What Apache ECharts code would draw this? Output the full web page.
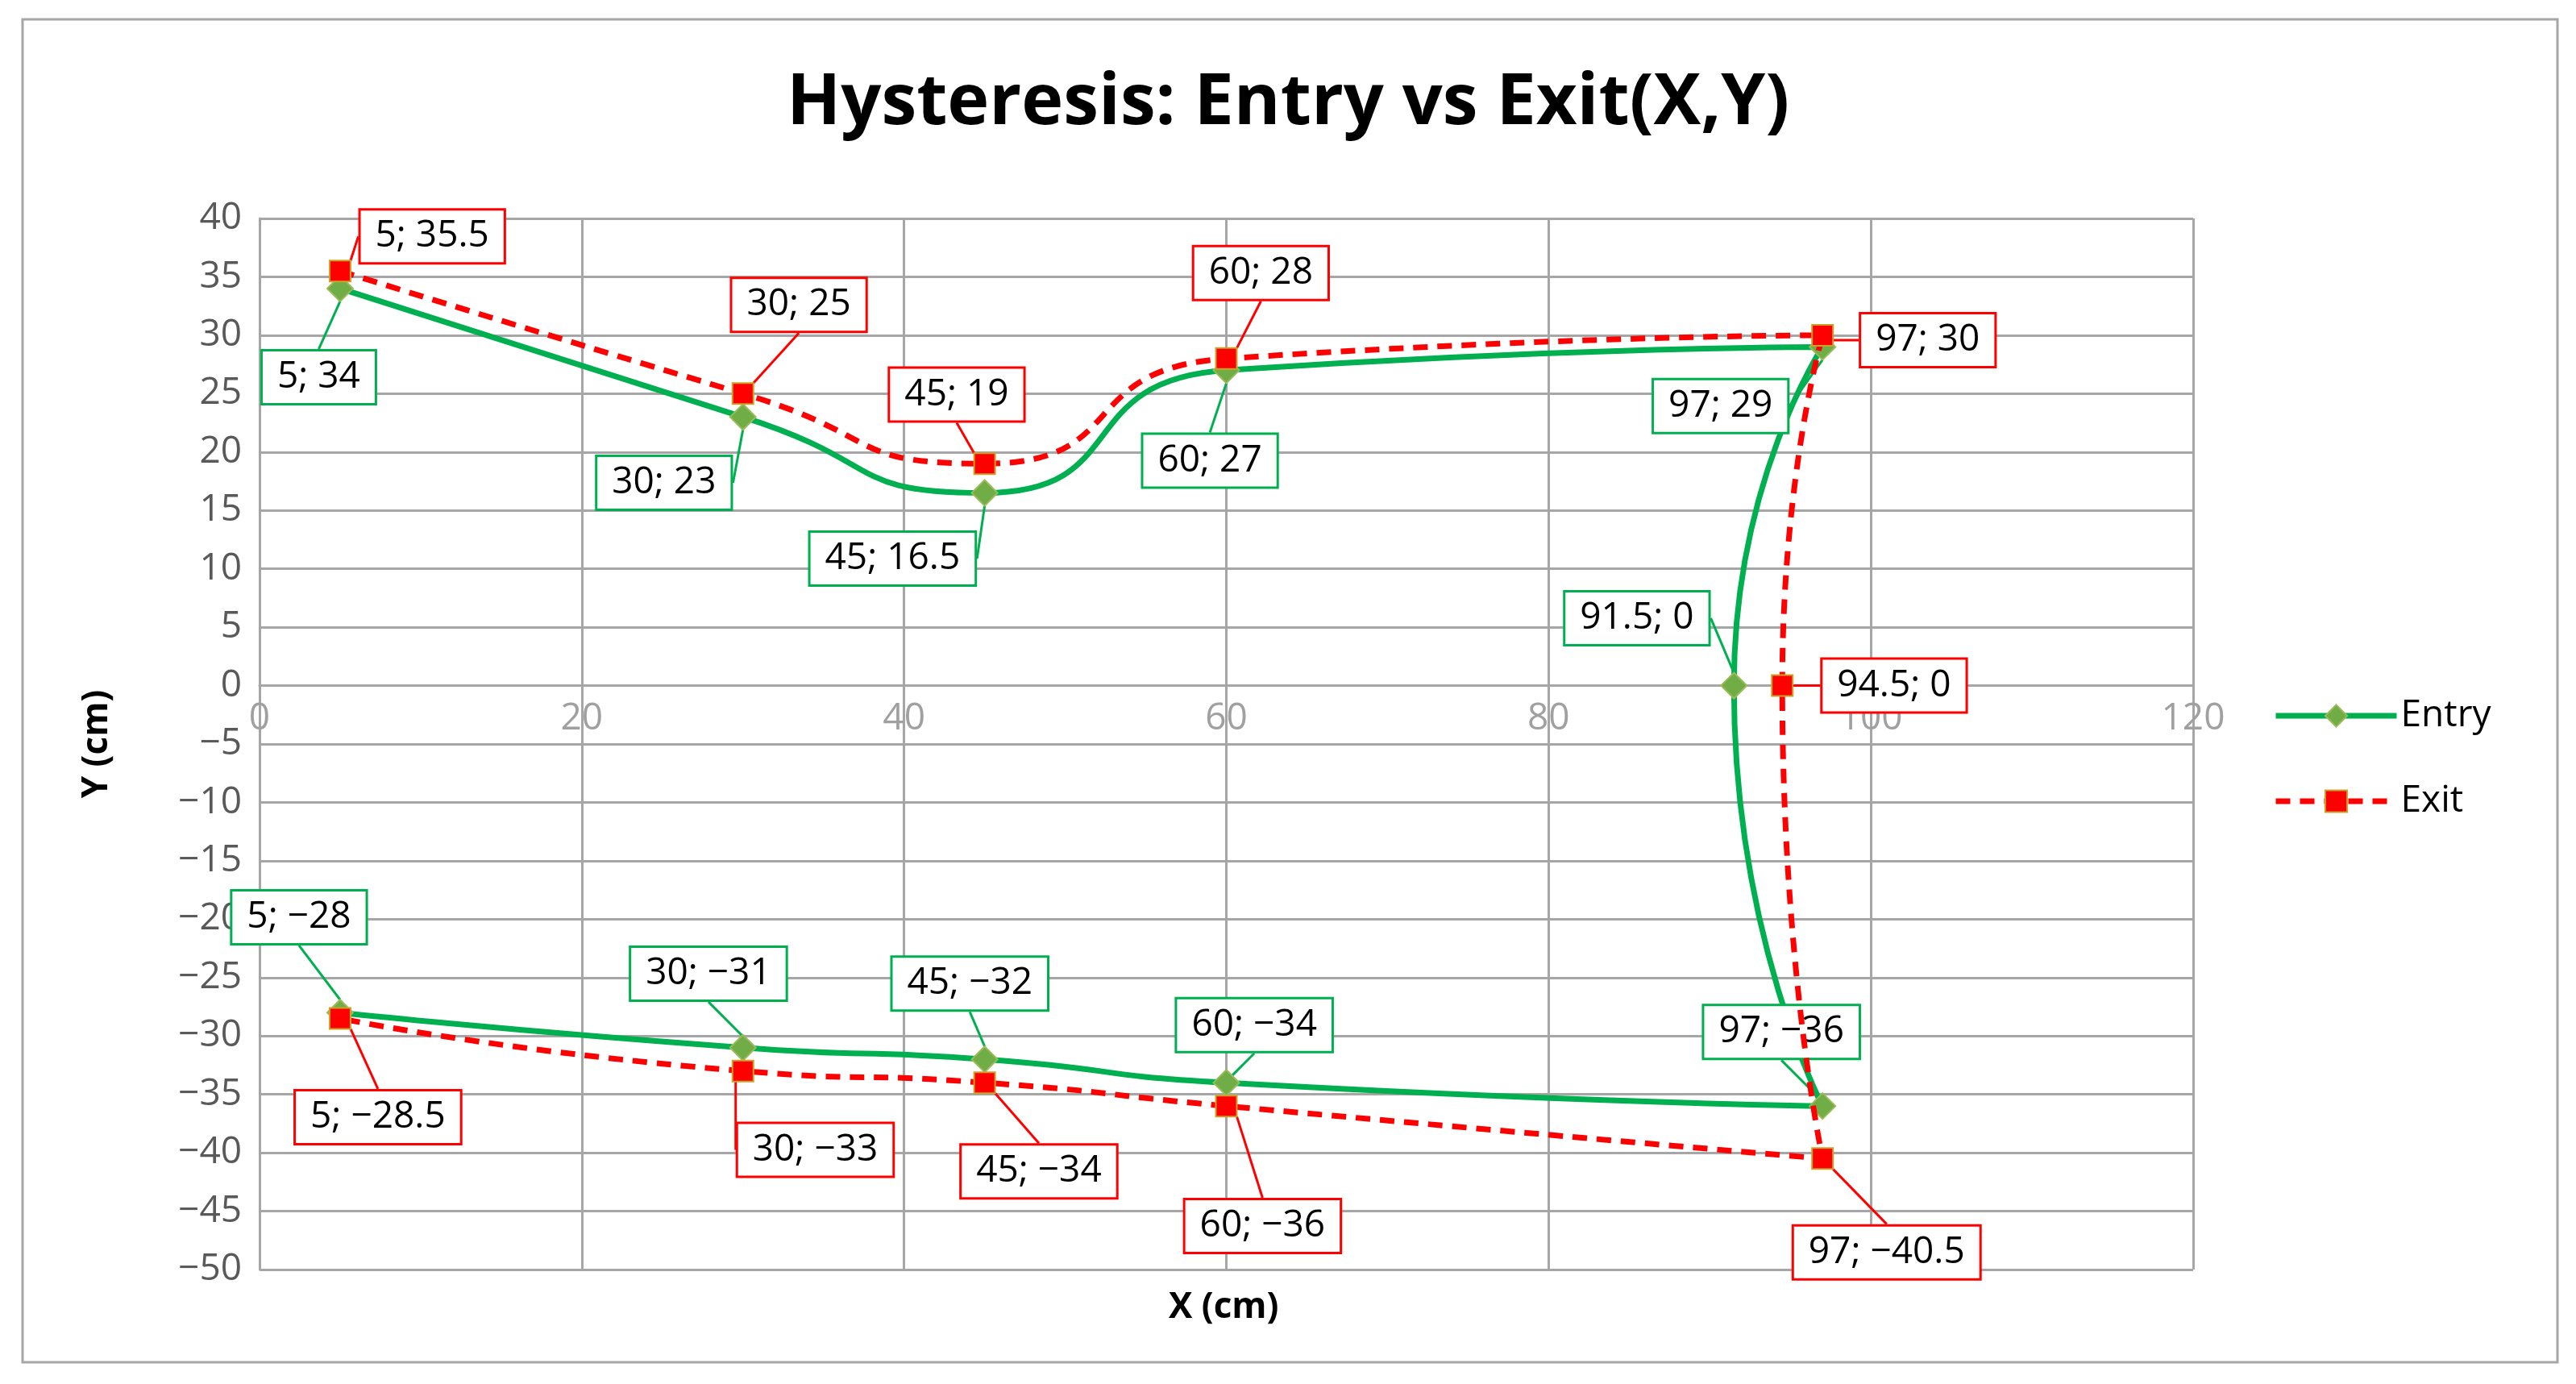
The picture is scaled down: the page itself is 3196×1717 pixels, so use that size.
<!DOCTYPE html>
<html>
<head>
<meta charset="utf-8">
<script src="https://cdn.jsdelivr.net/npm/echarts@6/dist/echarts.min.js"></script>
<style>html,body{margin:0;background:#fff}#chart{width:3196px;height:1717px}</style>
</head>
<body>
<div id="chart"></div>
<script>
// data
let entryX = [5, 30, 45, 60, 97, 91.5, 97, 60, 45, 30, 5];
let entryY = [34, 23, 16.5, 27, 29, 0, -36, -34, -32, -31, -28];
let exitX = [5, 30, 45, 60, 97, 94.5, 97, 60, 45, 30, 5];
let exitY = [35.5, 25, 19, 28, 30, 0, -40.5, -36, -34, -33, -28.5];

// label offsets (screen px, from marker to box centre)
let entryOff = [[-13, 54], [-48, 40], [-56, 40], [-10, 55], [-62, 36], [-59, -41], [-25, -45], [17, -35], [-9, -46], [-21, -45], [-25, -58]];
let exitOff = [[56, -21], [34, -54], [-17, -42], [21, -52], [64, 3], [68, 0], [39, 57], [22, 73], [33, 54], [44, 48], [23, 60]];

const S = 2.04;
const font = 'Open Sans';
const fmt = v => String(v).replace('-', '\u2212');
const plotH = 1717 - 271 - 142;

function pts(xs, ys) {
    return xs.map((x, i) => [x, ys[i]]);
}

function series(name, xs, ys, off, color, boxColor, symbol, symColor, symBorder, dashed) {
    return {
        name: name,
        type: 'line',
        smooth: 0.6,
        data: pts(xs, ys),
        symbol: symbol,
        symbolSize: symbol === 'diamond' ? 32 : 26,
        itemStyle: { color: symColor, borderColor: symBorder, borderWidth: 2 },
        lineStyle: { color: color, width: 7, type: dashed ? [18, 12] : 'solid' },
        label: {
            show: true,
            position: 'inside',
            formatter: p => fmt(p.value[0]) + '; ' + fmt(p.value[1]),
            fontFamily: font,
            fontSize: 46,
            color: '#000',
            backgroundColor: '#fff',
            borderColor: boxColor,
            borderWidth: 3,
            padding: [10, 18, 8, 18]
        },
        labelLine: { show: true, lineStyle: { color: boxColor, width: 3 } },
        labelLayout: p => ({ dx: off[p.dataIndex][0] * S, dy: off[p.dataIndex][1] * S, hideOverlap: false }),
        z: dashed ? 3 : 2
    };
}

let chart = echarts.init(document.getElementById('chart'));
let option = {
    animation: false,
    title: {
        text: 'Hysteresis: Entry vs Exit(X,Y)',
        left: 'center',
        top: 80,
        textStyle: { fontFamily: font, fontSize: 88, fontWeight: 'bold', color: '#000' }
    },
    legend: {
        orient: 'vertical',
        left: 2815,
        top: 860,
        itemGap: 60,
        itemWidth: 150,
        itemHeight: 34,
        lineStyle: { width: 7 },
        textStyle: { fontFamily: font, fontSize: 46, color: '#000' },
        data: ['Entry', 'Exit']
    },
    grid: { left: 322, right: 475, top: 271, bottom: 142 },
    xAxis: {
        type: 'value',
        min: 0, max: 120, interval: 20,
        offset: -plotH * 50 / 90,
        axisLine: { onZero: false, lineStyle: { color: '#a6a6a6', width: 3 } },
        axisTick: { show: false },
        axisLabel: { color: '#a0a0a0', fontFamily: font, fontSize: 46, margin: 18 },
        splitLine: { lineStyle: { color: '#a6a6a6', width: 3 } }
    },
    yAxis: {
        type: 'value',
        min: -50, max: 40, interval: 5,
        name: 'Y (cm)',
        nameLocation: 'middle',
        nameGap: 180,
        nameTextStyle: { fontFamily: font, fontSize: 44, fontWeight: 'bold', color: '#000' },
        axisLine: { show: true, lineStyle: { color: '#a6a6a6', width: 3 } },
        axisTick: { show: false },
        axisLabel: { color: '#595959', fontFamily: font, fontSize: 46, margin: 22, formatter: fmt },
        splitLine: { lineStyle: { color: '#a6a6a6', width: 3 } }
    },
    graphic: [
        { type: 'rect', shape: { x: 28, y: 24, width: 3145, height: 1666 }, style: { fill: 'none', stroke: '#a6a6a6', lineWidth: 3 } },
        { type: 'text', left: 1450, top: 1600, style: { text: 'X (cm)', font: 'bold 44px "Open Sans"', fill: '#000' } }
    ],
    series: [
        series('Entry', entryX, entryY, entryOff, '#00b050', '#00b050', 'diamond', '#70ad47', '#9bbb59', false),
        series('Exit', exitX, exitY, exitOff, '#ff0000', '#ff0000', 'rect', '#ff0000', '#c9a227', true)
    ]
};
chart.setOption(option);
</script>
</body>
</html>
